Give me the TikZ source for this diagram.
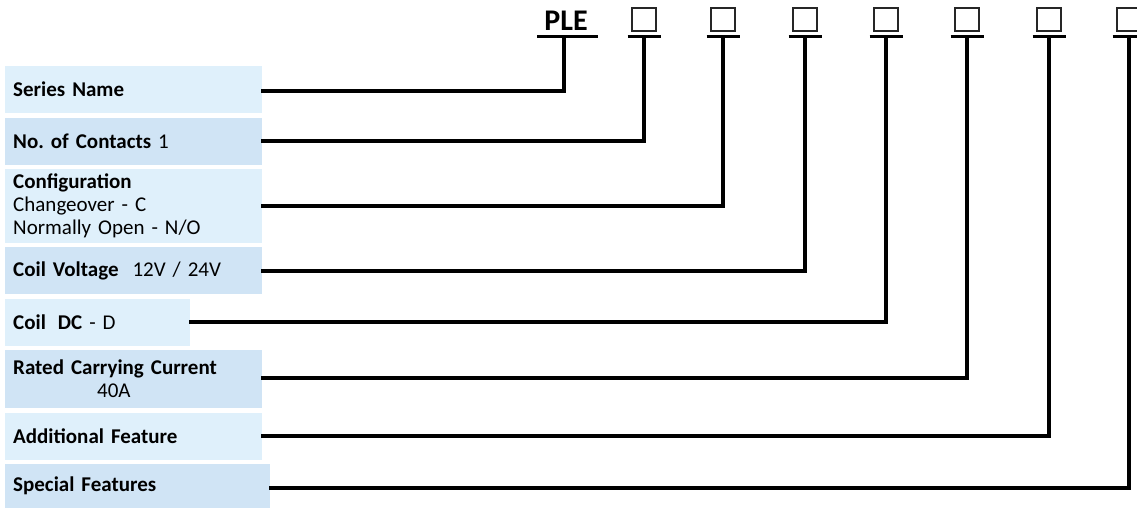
\documentclass[tikz,border=0pt]{standalone}
\usepackage{fontspec}
\setmainfont{Carlito}
\frenchspacing
\definecolor{lightbox}{RGB}{223,240,251}
\definecolor{darkbox}{RGB}{208,228,245}
\begin{document}
\begin{tikzpicture}[x=1pt,y=-1pt,
  box/.style={fill=#1, draw=none, inner xsep=8pt, inner ysep=0pt, anchor=west,
    align=left, font=\fontsize{21}{23}\selectfont},
  conn/.style={line width=3.2pt, line cap=rect},
  uline/.style={line width=3.2pt},
  codebox/.style={draw=black!85, line width=2.4pt, minimum width=24pt, minimum height=23pt, inner sep=0pt}]
\useasboundingbox (0,0) rectangle (1137,508);
% description boxes
\node[box=lightbox, text width=241pt, minimum height=47pt] (b1) at (5,89.5) {\textbf{Series Name}};
\node[box=darkbox, text width=241pt, minimum height=47pt] (b2) at (5,141.5) {\textbf{No. of Contacts} 1};
\node[box=lightbox, text width=241pt, minimum height=74pt] (b3) at (5,206) {\textbf{Configuration}\\Changeover - C\\Normally Open - N/O};
\node[box=darkbox, text width=241pt, minimum height=47pt] (b4) at (5,270.5) {\textbf{Coil Voltage}\hspace{14pt}12V / 24V};
\node[box=lightbox, text width=169pt, minimum height=47pt] (b5) at (5,322.5) {\textbf{Coil}\hspace{12pt}\textbf{DC} - D};
\node[box=darkbox, text width=241pt, minimum height=58pt] (b6) at (5,379) {\textbf{Rated Carrying Current}\\\hspace*{84pt}40A};
\node[box=lightbox, text width=241pt, minimum height=47pt] (b7) at (5,436.5) {\textbf{Additional Feature}};
\node[box=darkbox, text width=249pt, minimum height=44pt] (b8) at (5,486) {\textbf{Special Features}};
% code header
\node[font=\fontsize{30}{30}\selectfont\bfseries, anchor=base, inner sep=0pt] (ple) at (566,30.5) {PLE};
\foreach \i/\x in {1/644,2/723,3/805,4/886,5/967,6/1049,7/1129}{
  \node[codebox] (s\i) at (\x,19.5) {};
}
\foreach \i/\x in {0/564,1/644,2/723,3/805,4/886,5/967,6/1049,7/1129}{
  \coordinate (u\i) at (\x,36.5);
}
\draw[uline] ([xshift=-27pt]u0) -- ([xshift=34pt]u0);
\foreach \i in {1,...,7}{
  \draw[uline] ([xshift=-16.5pt]u\i) -- ([xshift=16.5pt]u\i);
}
% connectors
\draw[conn] (b1.east |- 0,91) -| (u0);
\draw[conn] (b2.east |- 0,141) -| (u1);
\draw[conn] (b3.east |- 0,206) -| (u2);
\draw[conn] (b4.east |- 0,271) -| (u3);
\draw[conn] (b5.east |- 0,322) -| (u4);
\draw[conn] (b6.east |- 0,378) -| (u5);
\draw[conn] (b7.east |- 0,436) -| (u6);
\draw[conn] (b8.east |- 0,488) -| (u7);
\end{tikzpicture}
\end{document}
